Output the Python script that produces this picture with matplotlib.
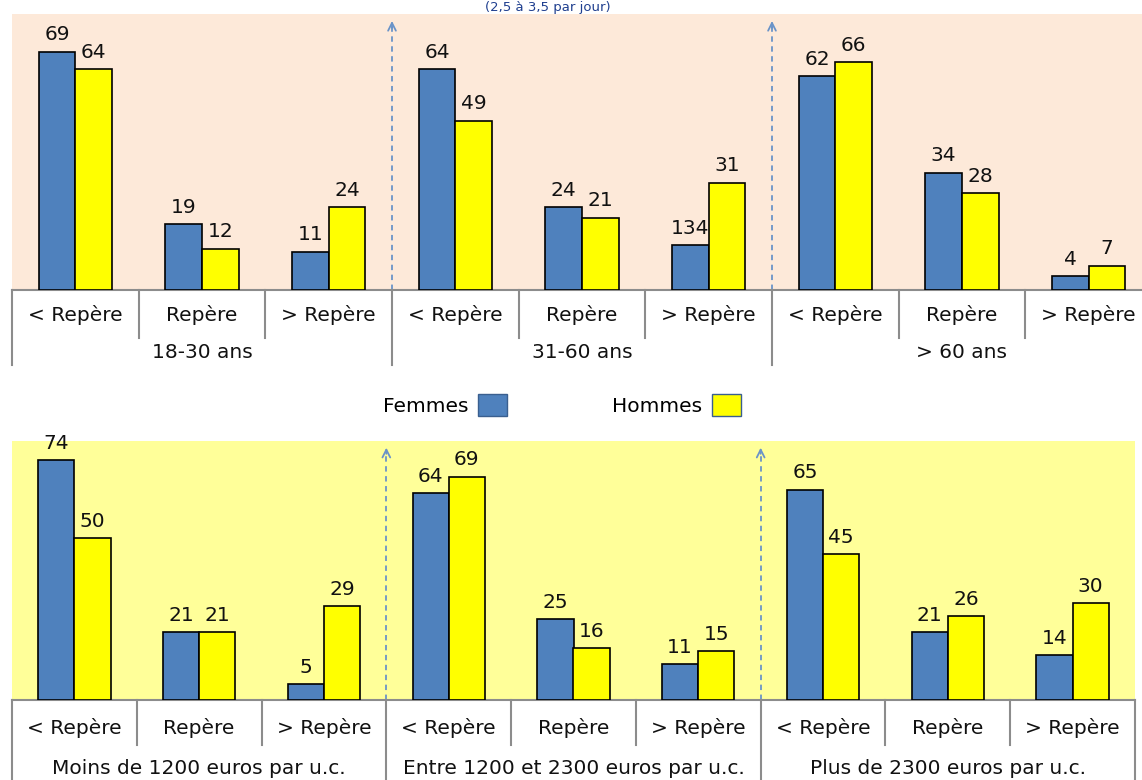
import matplotlib
matplotlib.use("Agg")
import matplotlib.pyplot as plt
from matplotlib.patches import Patch

# ---- data ----
sub_labels = ["< Repère", "Repère", "> Repère"]
age_groups = ["18-30 ans", "31-60 ans", "> 60 ans"]
income_groups = ["Moins de 1200 euros par u.c.", "Entre 1200 et 2300 euros par u.c.", "Plus de 2300 euros par u.c."]

age_femmes = [69, 19, 11, 64, 24, 13, 62, 34, 4]
age_hommes = [64, 12, 24, 49, 21, 31, 66, 28, 7]
age_femmes_labels = ["69", "19", "11", "64", "24", "134", "62", "34", "4"]
age_hommes_labels = ["64", "12", "24", "49", "21", "31", "66", "28", "7"]

inc_femmes = [74, 21, 5, 64, 25, 11, 65, 21, 14]
inc_hommes = [50, 21, 29, 69, 16, 15, 45, 26, 30]

title = "(2,5 à 3,5 par jour)"

C_F = "#4F81BD"
C_H = "#FFFF00"
GRID = "#8C8C8C"
ARROW = "#6A93C8"
W, H = 1142, 780

fig = plt.figure(figsize=(W / 100, H / 100), dpi=100)
fig.patch.set_facecolor("white")
plt.rcParams["font.family"] = ["DejaVu Sans"]

FS = 14.5


def panel(rect_px, bg, fem, hom, fem_lab, hom_lab, groups, rows_px, short_px, long_px):
    left, top, right, bottom = rect_px
    ax = fig.add_axes([left / W, 1 - bottom / H, (right - left) / W, (bottom - top) / H])
    hpx = bottom - top
    ax.set_facecolor(bg)
    n = len(fem)
    xs = list(range(n))
    bw = 0.29
    ax.bar([x - bw / 2 for x in xs], fem, width=bw, color=C_F, edgecolor="black", linewidth=1.2, zorder=3)
    ax.bar([x + bw / 2 for x in xs], hom, width=bw, color=C_H, edgecolor="black", linewidth=1.2, zorder=3)
    for x, v, t in zip(xs, fem, fem_lab):
        ax.text(x - bw / 2, v + 2.2, t, ha="center", va="bottom", fontsize=FS, color="#111111", zorder=4)
    for x, v, t in zip(xs, hom, hom_lab):
        ax.text(x + bw / 2, v + 2.2, t, ha="center", va="bottom", fontsize=FS, color="#111111", zorder=4)
    ax.set_xlim(-0.5, n - 0.5)
    ax.set_ylim(0, 80)
    ax.set_xticks([])
    ax.set_yticks([])
    for s in ["left", "right", "top"]:
        ax.spines[s].set_visible(False)
    ax.spines["bottom"].set_color(GRID)
    ax.spines["bottom"].set_linewidth(1.5)
    tr = ax.get_xaxis_transform()
    r1 = -rows_px[0] / hpx
    r2 = -rows_px[1] / hpx
    ys = -short_px / hpx
    yl = -long_px / hpx
    for i in range(n):
        ax.text(i, r1, sub_labels[i % 3], ha="center", va="center", fontsize=FS,
                color="#111111", transform=tr, clip_on=False)
    for g, name in enumerate(groups):
        ax.text(3 * g + 1, r2, name, ha="center", va="center", fontsize=FS,
                color="#111111", transform=tr, clip_on=False)
    for b in range(n + 1):
        xb = b - 0.5
        y_end = yl if b % 3 == 0 else ys
        ax.plot([xb, xb], [0, y_end], color=GRID, lw=1.5, transform=tr, clip_on=False, zorder=2)
    for b in (3, 6):
        xb = b - 0.5
        ax.plot([xb, xb], [0, 0.965], color=ARROW, lw=1.3, ls=(0, (3, 2.5)), transform=tr, zorder=2)
        ax.annotate("", xy=(xb, 0.985), xytext=(xb, 0.94), xycoords=tr, textcoords=tr,
                    arrowprops=dict(arrowstyle="->", color=ARROW, lw=1.3, mutation_scale=14))
    return ax


panel((12, 14, 1152, 290), "#FDE9D9", age_femmes, age_hommes, age_femmes_labels, age_hommes_labels,
      age_groups, (25, 62), 48, 75)
panel((12, 441, 1135, 700), "#FFFF99", inc_femmes, inc_hommes,
      [str(v) for v in inc_femmes], [str(v) for v in inc_hommes],
      income_groups, (28, 68), 45, 82)

handles = [Patch(facecolor=C_F, edgecolor="#3A5F8F"), Patch(facecolor=C_H, edgecolor="#3A5F8F")]
fig.legend(handles, ["Femmes", "Hommes"], loc="center", bbox_to_anchor=(562 / W, 1 - 405 / H),
           ncol=2, frameon=False, markerfirst=False, fontsize=FS, handlelength=1.45, handleheight=1.35,
           columnspacing=5.2, handletextpad=0.5)

fig.text(548 / W, 1 - 1 / H, title, ha="center", va="top", fontsize=9.5, color="#1F3F8F")

fig.savefig("out.png", dpi=100, facecolor="white")
